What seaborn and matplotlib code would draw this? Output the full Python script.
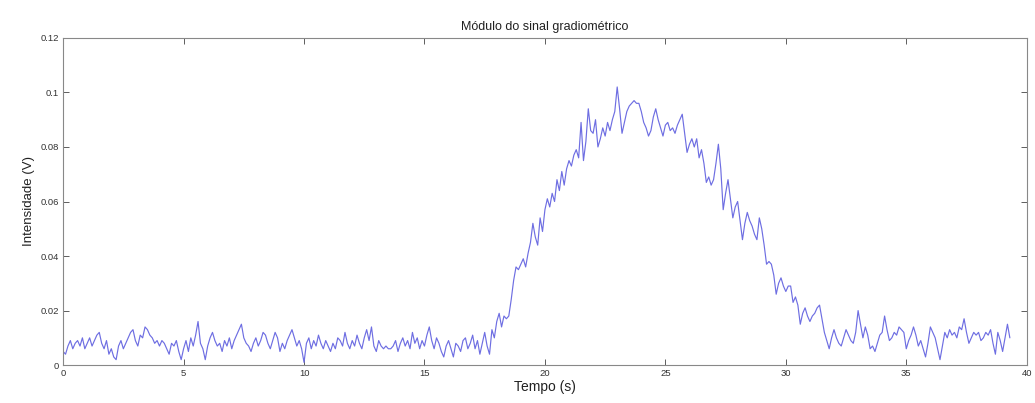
import numpy as np
import pandas as pd
import seaborn as sns
import matplotlib
matplotlib.use('Agg')
import matplotlib.pyplot as plt

# signal, one value every 0.1 s
dt = 0.1
sinal = [
    0.005, 0.004, 0.007, 0.009, 0.006, 0.008, 0.009, 0.007, 0.010, 0.006,
    0.008, 0.010, 0.007, 0.009, 0.011, 0.012, 0.008, 0.006, 0.009, 0.004,
    0.006, 0.003, 0.002, 0.007, 0.009, 0.006, 0.008, 0.010, 0.012, 0.013,
    0.009, 0.007, 0.011, 0.010, 0.014, 0.013, 0.011, 0.010, 0.008, 0.009,
    0.007, 0.009, 0.008, 0.006, 0.004, 0.008, 0.007, 0.009, 0.005, 0.002,
    0.006, 0.009, 0.005, 0.010, 0.007, 0.011, 0.016, 0.008, 0.006, 0.002,
    0.007, 0.010, 0.012, 0.009, 0.007, 0.008, 0.005, 0.009, 0.007, 0.010,
    0.006, 0.009, 0.011, 0.013, 0.015, 0.010, 0.008, 0.007, 0.005, 0.008,
    0.010, 0.007, 0.009, 0.012, 0.011, 0.008, 0.006, 0.009, 0.012, 0.010,
    0.005, 0.008, 0.006, 0.009, 0.011, 0.013, 0.010, 0.007, 0.009, 0.006,
    0.001, 0.008, 0.010, 0.006, 0.009, 0.007, 0.011, 0.008, 0.006, 0.009,
    0.007, 0.005, 0.008, 0.006, 0.010, 0.009, 0.007, 0.012, 0.008, 0.006,
    0.009, 0.007, 0.011, 0.008, 0.006, 0.010, 0.013, 0.009, 0.014, 0.007,
    0.005, 0.009, 0.007, 0.006, 0.007, 0.006, 0.006, 0.007, 0.009, 0.005,
    0.008, 0.010, 0.007, 0.009, 0.006, 0.012, 0.008, 0.010, 0.006, 0.009,
    0.007, 0.011, 0.014, 0.009, 0.006, 0.010, 0.008, 0.005, 0.003, 0.007,
    0.009, 0.006, 0.003, 0.008, 0.007, 0.005, 0.009, 0.010, 0.006, 0.008,
    0.011, 0.006, 0.009, 0.004, 0.008, 0.012, 0.007, 0.004, 0.013, 0.010,
    0.016, 0.019, 0.014, 0.018, 0.017, 0.018, 0.024, 0.031, 0.036, 0.035,
    0.037, 0.039, 0.036, 0.041, 0.045, 0.052, 0.047, 0.044, 0.054, 0.049,
    0.057, 0.061, 0.058, 0.063, 0.060, 0.068, 0.064, 0.071, 0.066, 0.072,
    0.075, 0.073, 0.077, 0.079, 0.076, 0.089, 0.075, 0.082, 0.094, 0.086,
    0.085, 0.090, 0.080, 0.083, 0.087, 0.084, 0.089, 0.086, 0.090, 0.093,
    0.102, 0.094, 0.085, 0.089, 0.093, 0.095, 0.096, 0.097, 0.096, 0.096,
    0.093, 0.089, 0.087, 0.084, 0.086, 0.091, 0.094, 0.090, 0.087, 0.084,
    0.088, 0.089, 0.086, 0.087, 0.085, 0.088, 0.090, 0.092, 0.085, 0.078,
    0.081, 0.083, 0.080, 0.083, 0.076, 0.079, 0.074, 0.067, 0.069, 0.066,
    0.068, 0.074, 0.081, 0.072, 0.057, 0.063, 0.068, 0.061, 0.054, 0.058,
    0.060, 0.053, 0.046, 0.052, 0.056, 0.053, 0.051, 0.048, 0.046, 0.054,
    0.050, 0.044, 0.037, 0.038, 0.037, 0.033, 0.026, 0.030, 0.032, 0.029,
    0.027, 0.029, 0.029, 0.023, 0.025, 0.022, 0.015, 0.019, 0.021, 0.018,
    0.016, 0.018, 0.019, 0.021, 0.022, 0.017, 0.012, 0.009, 0.006, 0.010,
    0.013, 0.010, 0.008, 0.007, 0.010, 0.013, 0.011, 0.009, 0.008, 0.012,
    0.020, 0.015, 0.010, 0.014, 0.011, 0.006, 0.007, 0.005, 0.008, 0.011,
    0.012, 0.018, 0.013, 0.009, 0.010, 0.012, 0.011, 0.014, 0.013, 0.012,
    0.006, 0.009, 0.011, 0.014, 0.011, 0.007, 0.009, 0.006, 0.003, 0.008,
    0.014, 0.012, 0.010, 0.006, 0.002, 0.007, 0.012, 0.010, 0.013, 0.011,
    0.012, 0.010, 0.014, 0.013, 0.017, 0.012, 0.008, 0.010, 0.012, 0.011,
    0.012, 0.009, 0.010, 0.012, 0.011, 0.013, 0.008, 0.004, 0.012, 0.009,
    0.005, 0.010, 0.015, 0.010,
]
xticks = [0, 5, 10, 15, 20, 25, 30, 35, 40]
yticks = [0, 0.02, 0.04, 0.06, 0.08, 0.1, 0.12]
ytick_labels = ['0', '0.02', '0.04', '0.06', '0.08', '0.1', '0.12']

df = pd.DataFrame({'tempo': np.arange(len(sinal)) * dt, 'sinal': sinal})

sns.set_style('ticks')
plt.rcParams['font.family'] = ['Liberation Sans', 'DejaVu Sans']

fig = plt.figure(figsize=(10.35, 4.03), dpi=100)
ax = fig.add_axes([0.061, 0.094, 0.931, 0.812])

sns.lineplot(data=df, x='tempo', y='sinal', ax=ax, color='#6e6ee2', linewidth=0.85)

ax.set_xlim(0, 40)
ax.set_ylim(0, 0.12)
ax.set_xticks(xticks)
ax.set_xticklabels([str(t) for t in xticks])
ax.set_yticks(yticks)
ax.set_yticklabels(ytick_labels)
ax.tick_params(direction='in', top=True, right=True, length=4, width=0.6,
               labelsize=6.8, colors='#444444', labelcolor='#333333', pad=3)
for s in ax.spines.values():
    s.set_color('#888888')
    s.set_linewidth(0.8)

ax.set_title('Módulo do sinal gradiométrico', fontsize=9, color='#222222', pad=6)
ax.set_xlabel('Tempo (s)', fontsize=10, color='#222222', labelpad=1)
ax.set_ylabel('Intensidade (V)', fontsize=9.5, color='#222222', labelpad=4)

fig.savefig('out.png', dpi=100, facecolor='white')
